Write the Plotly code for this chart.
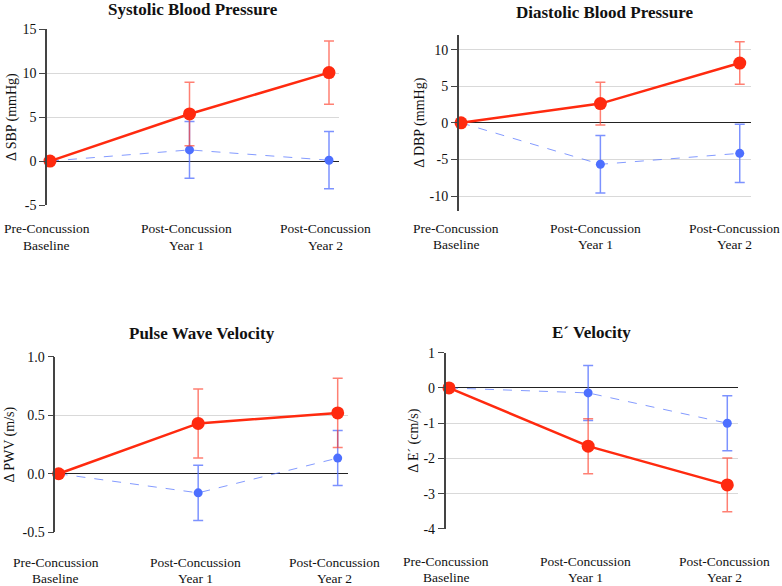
import plotly.graph_objects as go

categories = [0, 1, 2]
tick_labels = ["Pre-Concussion<br>Baseline", "Post-Concussion<br>Year 1", "Post-Concussion<br>Year 2"]

titles = ["Systolic Blood Pressure", "Diastolic Blood Pressure", "Pulse Wave Velocity", "E\u00b4 Velocity"]
y_titles = ["\u0394 SBP (mmHg)", "\u0394 DBP (mmHg)", "\u0394 PWV (m/s)", "\u0394 E\u00b4 (cm/s)"]

# concussion group (red)
sbp_red = [0, 5.35, 10.05]
sbp_red_err = [0, 3.6, 3.6]
dbp_red = [0, 2.63, 8.17]
dbp_red_err = [0, 2.93, 2.9]
pwv_red = [0, 0.43, 0.52]
pwv_red_err = [0, 0.295, 0.295]
ev_red = [0, -1.65, -2.75]
ev_red_err = [0, 0.78, 0.76]

# control group (blue)
sbp_blue = [0, 1.27, 0.1]
sbp_blue_err = [0, 3.22, 3.25]
dbp_blue = [0, -5.66, -4.16]
dbp_blue_err = [0, 3.93, 3.97]
pwv_blue = [0, -0.163, 0.134]
pwv_blue_err = [0, 0.236, 0.235]
ev_blue = [0, -0.14, -1.0]
ev_blue_err = [0, 0.78, 0.78]

y_ticks = [[-5, 0, 5, 10, 15], [-10, -5, 0, 5, 10], [-0.5, 0.0, 0.5, 1.0], [-4, -3, -2, -1, 0, 1]]
y_tick_text = [["-5", "0", "5", "10", "15"], ["-10", "-5", "0", "5", "10"],
               ["-0.5", "0.0", "0.5", "1.0"], ["-4", "-3", "-2", "-1", "0", "1"]]
y_ranges = [[-5, 15], [-12, 12], [-0.5, 1.0], [-4, 1]]

reds = [sbp_red, dbp_red, pwv_red, ev_red]
red_errs = [sbp_red_err, dbp_red_err, pwv_red_err, ev_red_err]
blues = [sbp_blue, dbp_blue, pwv_blue, ev_blue]
blue_errs = [sbp_blue_err, dbp_blue_err, pwv_blue_err, ev_blue_err]

# layout (paper domains)
W, H = 782, 586
x_domains = [[0.0601, 0.4335], [0.5866, 0.9604], [0.0707, 0.4454], [0.5699, 0.9441]]
y_domains = [[0.650, 0.9505], [0.6404, 0.9403], [0.0916, 0.3913], [0.0973, 0.3981]]
x_ranges = [[-0.0215, 2.0717], [-0.0165, 2.081], [-0.024, 2.076], [-0.024, 2.079]]
title_y_px = [9, 13, 333, 332]
ytitle_x_px = [12, 420, 10, 414]
xlabel_y_px = [229, 228, 562, 561]
xlabel_line_gap = 16
xlabel_shift = [-3, -5, -3, -3]

FONT = "Liberation Serif"
RED = "#ff2a0f"
RED_ERR = "rgba(255,60,40,0.65)"
BLUE = "#4d6fff"
BLUE_LINE = "rgba(90,120,255,0.75)"
BLUE_ERR = "rgba(80,110,255,0.75)"

fig = go.Figure()

for i in range(4):
    xa = "x" if i == 0 else f"x{i+1}"
    ya = "y" if i == 0 else f"y{i+1}"
    # blue control series
    fig.add_trace(go.Scatter(
        x=categories, y=blues[i], xaxis=xa, yaxis=ya, mode="lines+markers",
        line=dict(color=BLUE_LINE, width=1, dash="dash"),
        marker=dict(color=BLUE, size=9),
        error_y=dict(type="data", array=blue_errs[i], color=BLUE_ERR, thickness=1.5, width=5),
        showlegend=False, cliponaxis=False))
    # red concussion series
    fig.add_trace(go.Scatter(
        x=categories, y=reds[i], xaxis=xa, yaxis=ya, mode="lines+markers",
        line=dict(color=RED, width=2.5),
        marker=dict(color=RED, size=13),
        error_y=dict(type="data", array=red_errs[i], color=RED_ERR, thickness=1.5, width=5),
        showlegend=False, cliponaxis=False))

    xkey = "xaxis" if i == 0 else f"xaxis{i+1}"
    ykey = "yaxis" if i == 0 else f"yaxis{i+1}"
    fig.layout[xkey] = dict(
        domain=x_domains[i], range=x_ranges[i], anchor=ya, automargin=False,
        showticklabels=False, showgrid=False, zeroline=False,
        showline=False, ticks="")
    fig.layout[ykey] = dict(
        domain=y_domains[i], range=y_ranges[i], anchor=xa, automargin=False,
        tickvals=y_ticks[i], ticktext=y_tick_text[i],
        showgrid=True, gridcolor="#d9d9d9", gridwidth=1,
        zeroline=True, zerolinecolor="#222", zerolinewidth=1.2,
        showline=True, linecolor="#444", linewidth=1.5,
        ticks="outside", ticklen=6, tickcolor="#444", tickwidth=1,
        tickfont=dict(family=FONT, size=14, color="#111"))
    fig.add_annotation(
        text=f"<b>{titles[i]}</b>", xref="paper", yref="paper",
        x=(x_domains[i][0] + x_domains[i][1]) / 2, y=1 - title_y_px[i] / H,
        xanchor="center", yanchor="middle", showarrow=False,
        font=dict(family=FONT, size=17, color="#111"))
    fig.add_annotation(
        text=y_titles[i], xref="paper", yref="paper", textangle=-90,
        x=ytitle_x_px[i] / W, y=(y_domains[i][0] + y_domains[i][1]) / 2,
        xanchor="center", yanchor="middle", showarrow=False,
        font=dict(family=FONT, size=14, color="#111"))
    for c, lab in zip(categories, tick_labels):
        for k, line in enumerate(lab.split("<br>")):
            fig.add_annotation(
                text=line, xref=xa, yref="paper", x=c,
                y=1 - (xlabel_y_px[i] + k * xlabel_line_gap) / H,
                xanchor="center", yanchor="middle", xshift=xlabel_shift[i], showarrow=False,
                font=dict(family=FONT, size=13.5, color="#111"))

fig.update_layout(
    width=W, height=H, margin=dict(l=0, r=0, t=0, b=0),
    paper_bgcolor="white", plot_bgcolor="white",
    font=dict(family=FONT))

fig.write_html("out.html", config={"displayModeBar": False},
               post_script="document.body.style.margin='0px';document.body.style.overflow='hidden';")
